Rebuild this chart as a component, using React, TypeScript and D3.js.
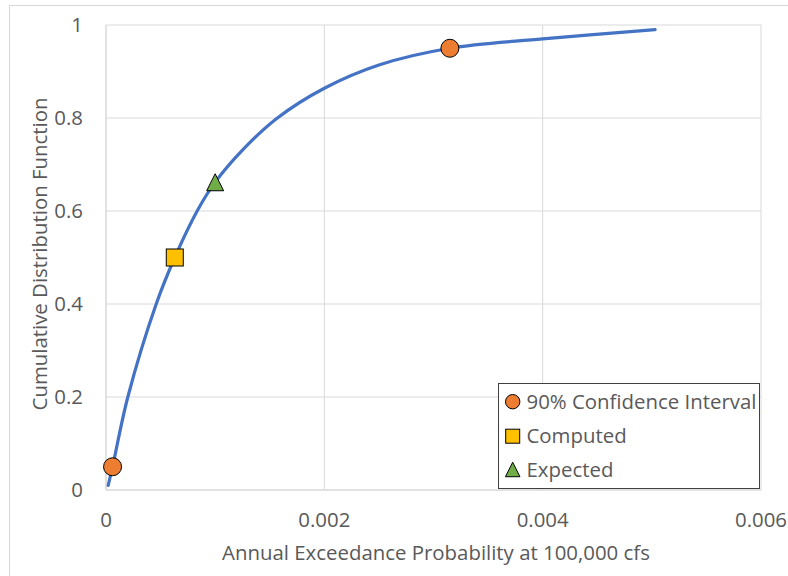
import React from "react";
import * as d3 from "d3";

const curveX = [0.00002, 0.00006, 0.0002, 0.00046, 0.00063, 0.00084, 0.001, 0.00125, 0.00157, 0.002, 0.0025, 0.00315, 0.004, 0.00503];
const curveY = [0.01, 0.05, 0.2, 0.4, 0.5, 0.602, 0.662, 0.731, 0.8, 0.864, 0.914, 0.95, 0.97, 0.99];

const ciX = [0.00006, 0.00315];
const ciY = [0.05, 0.95];
const computedX = [0.00063];
const computedY = [0.5];
const expectedX = [0.001];
const expectedY = [0.66];

const xTicks = [0, 0.002, 0.004, 0.006];
const yTicks = [0, 0.2, 0.4, 0.6, 0.8, 1];
const legendLabels = ["90% Confidence Interval", "Computed", "Expected"];

const W = 788;
const H = 576;
const FONT = "'Open Sans', sans-serif";
const FS = 20.4;
const TXT = "#595959";
const GRID = "#d9d9d9";

export default function App() {
  const x = d3.scaleLinear().domain([0, 0.006]).range([106, 761]);
  const y = d3.scaleLinear().domain([0, 1]).range([490, 25]);
  const line = d3
    .line<number>()
    .x((_, i) => x(curveX[i]))
    .y((d) => y(d))
    .curve(d3.curveCatmullRom.alpha(0.5));
  const tri = (cx: number, cy: number, s: number) =>
    `M${cx},${cy - s * 0.55}L${cx + s / 2},${cy + s * 0.45}L${cx - s / 2},${cy + s * 0.45}Z`;

  const legX = 498;
  const legY = 383;
  const rows = [401.7, 436.2, 470.2];

  return (
    <svg width={W} height={H} style={{ position: "absolute", left: 0, top: 0, background: "#fff" }}>
      <rect x={0} y={0} width={W} height={H} fill="#fff" />
      <rect x={9.5} y={5.5} width={900} height={700} fill="none" stroke={GRID} strokeWidth={1} />
      {xTicks.slice(1).map((t) => (
        <line key={"gx" + t} x1={x(t)} x2={x(t)} y1={y(0)} y2={y(1)} stroke={GRID} strokeWidth={1} />
      ))}
      {yTicks.slice(1).map((t) => (
        <line key={"gy" + t} x1={x(0)} x2={x(0.006)} y1={y(t)} y2={y(t)} stroke={GRID} strokeWidth={1} />
      ))}
      <line x1={x(0)} x2={x(0.006)} y1={y(0)} y2={y(0)} stroke={GRID} strokeWidth={1.5} />
      <line x1={x(0)} x2={x(0)} y1={y(0)} y2={y(1)} stroke={GRID} strokeWidth={1.5} />
      {xTicks.map((t) => (
        <text key={"xt" + t} x={x(t)} y={527} textAnchor="middle" fontFamily={FONT} fontSize={FS} fill={TXT}>
          {t === 0 ? "0" : d3.format(".3f")(t)}
        </text>
      ))}
      {yTicks.map((t) => (
        <text key={"yt" + t} x={83} y={y(t)} dy="0.35em" textAnchor="end" fontFamily={FONT} fontSize={FS} fill={TXT}>
          {t === 0 || t === 1 ? String(t) : d3.format(".1f")(t)}
        </text>
      ))}
      <text x={436} y={560} textAnchor="middle" fontFamily={FONT} fontSize={FS} fill={TXT}>
        Annual Exceedance Probability at 100,000 cfs
      </text>
      <text
        transform={`translate(46.5,254) rotate(-90)`}
        textAnchor="middle"
        fontFamily={FONT}
        fontSize={FS}
        fill={TXT}
      >
        Cumulative Distribution Function
      </text>
      <path d={line(curveY) || ""} fill="none" stroke="#4472C4" strokeWidth={3.2} strokeLinecap="round" />
      {ciX.map((v, i) => (
        <circle key={"ci" + i} cx={x(v)} cy={y(ciY[i])} r={9} fill="#ED7D31" stroke="#000" strokeWidth={1} />
      ))}
      {computedX.map((v, i) => (
        <rect key={"cp" + i} x={x(v) - 8.5} y={y(computedY[i]) - 8.5} width={17} height={17} fill="#FFC000" stroke="#000" strokeWidth={1} />
      ))}
      {expectedX.map((v, i) => (
        <path key={"ex" + i} d={tri(x(v), y(expectedY[i]), 17)} fill="#70AD47" stroke="#000" strokeWidth={1} />
      ))}
      <rect x={legX + 0.5} y={legY + 0.5} width={261} height={105} fill="#fff" stroke="#404040" strokeWidth={1} />
      <circle cx={512.7} cy={rows[0]} r={7.2} fill="#ED7D31" stroke="#000" strokeWidth={1} />
      <rect x={512.7 - 7} y={rows[1] - 7} width={14} height={14} fill="#FFC000" stroke="#000" strokeWidth={1} />
      <path d={tri(512.7, rows[2], 14.5)} fill="#70AD47" stroke="#000" strokeWidth={1} />
      {legendLabels.map((l, i) => (
        <text key={l} x={526.5} y={rows[i]} dy="0.35em" fontFamily={FONT} fontSize={FS} fill={TXT}>
          {l}
        </text>
      ))}
    </svg>
  );
}
